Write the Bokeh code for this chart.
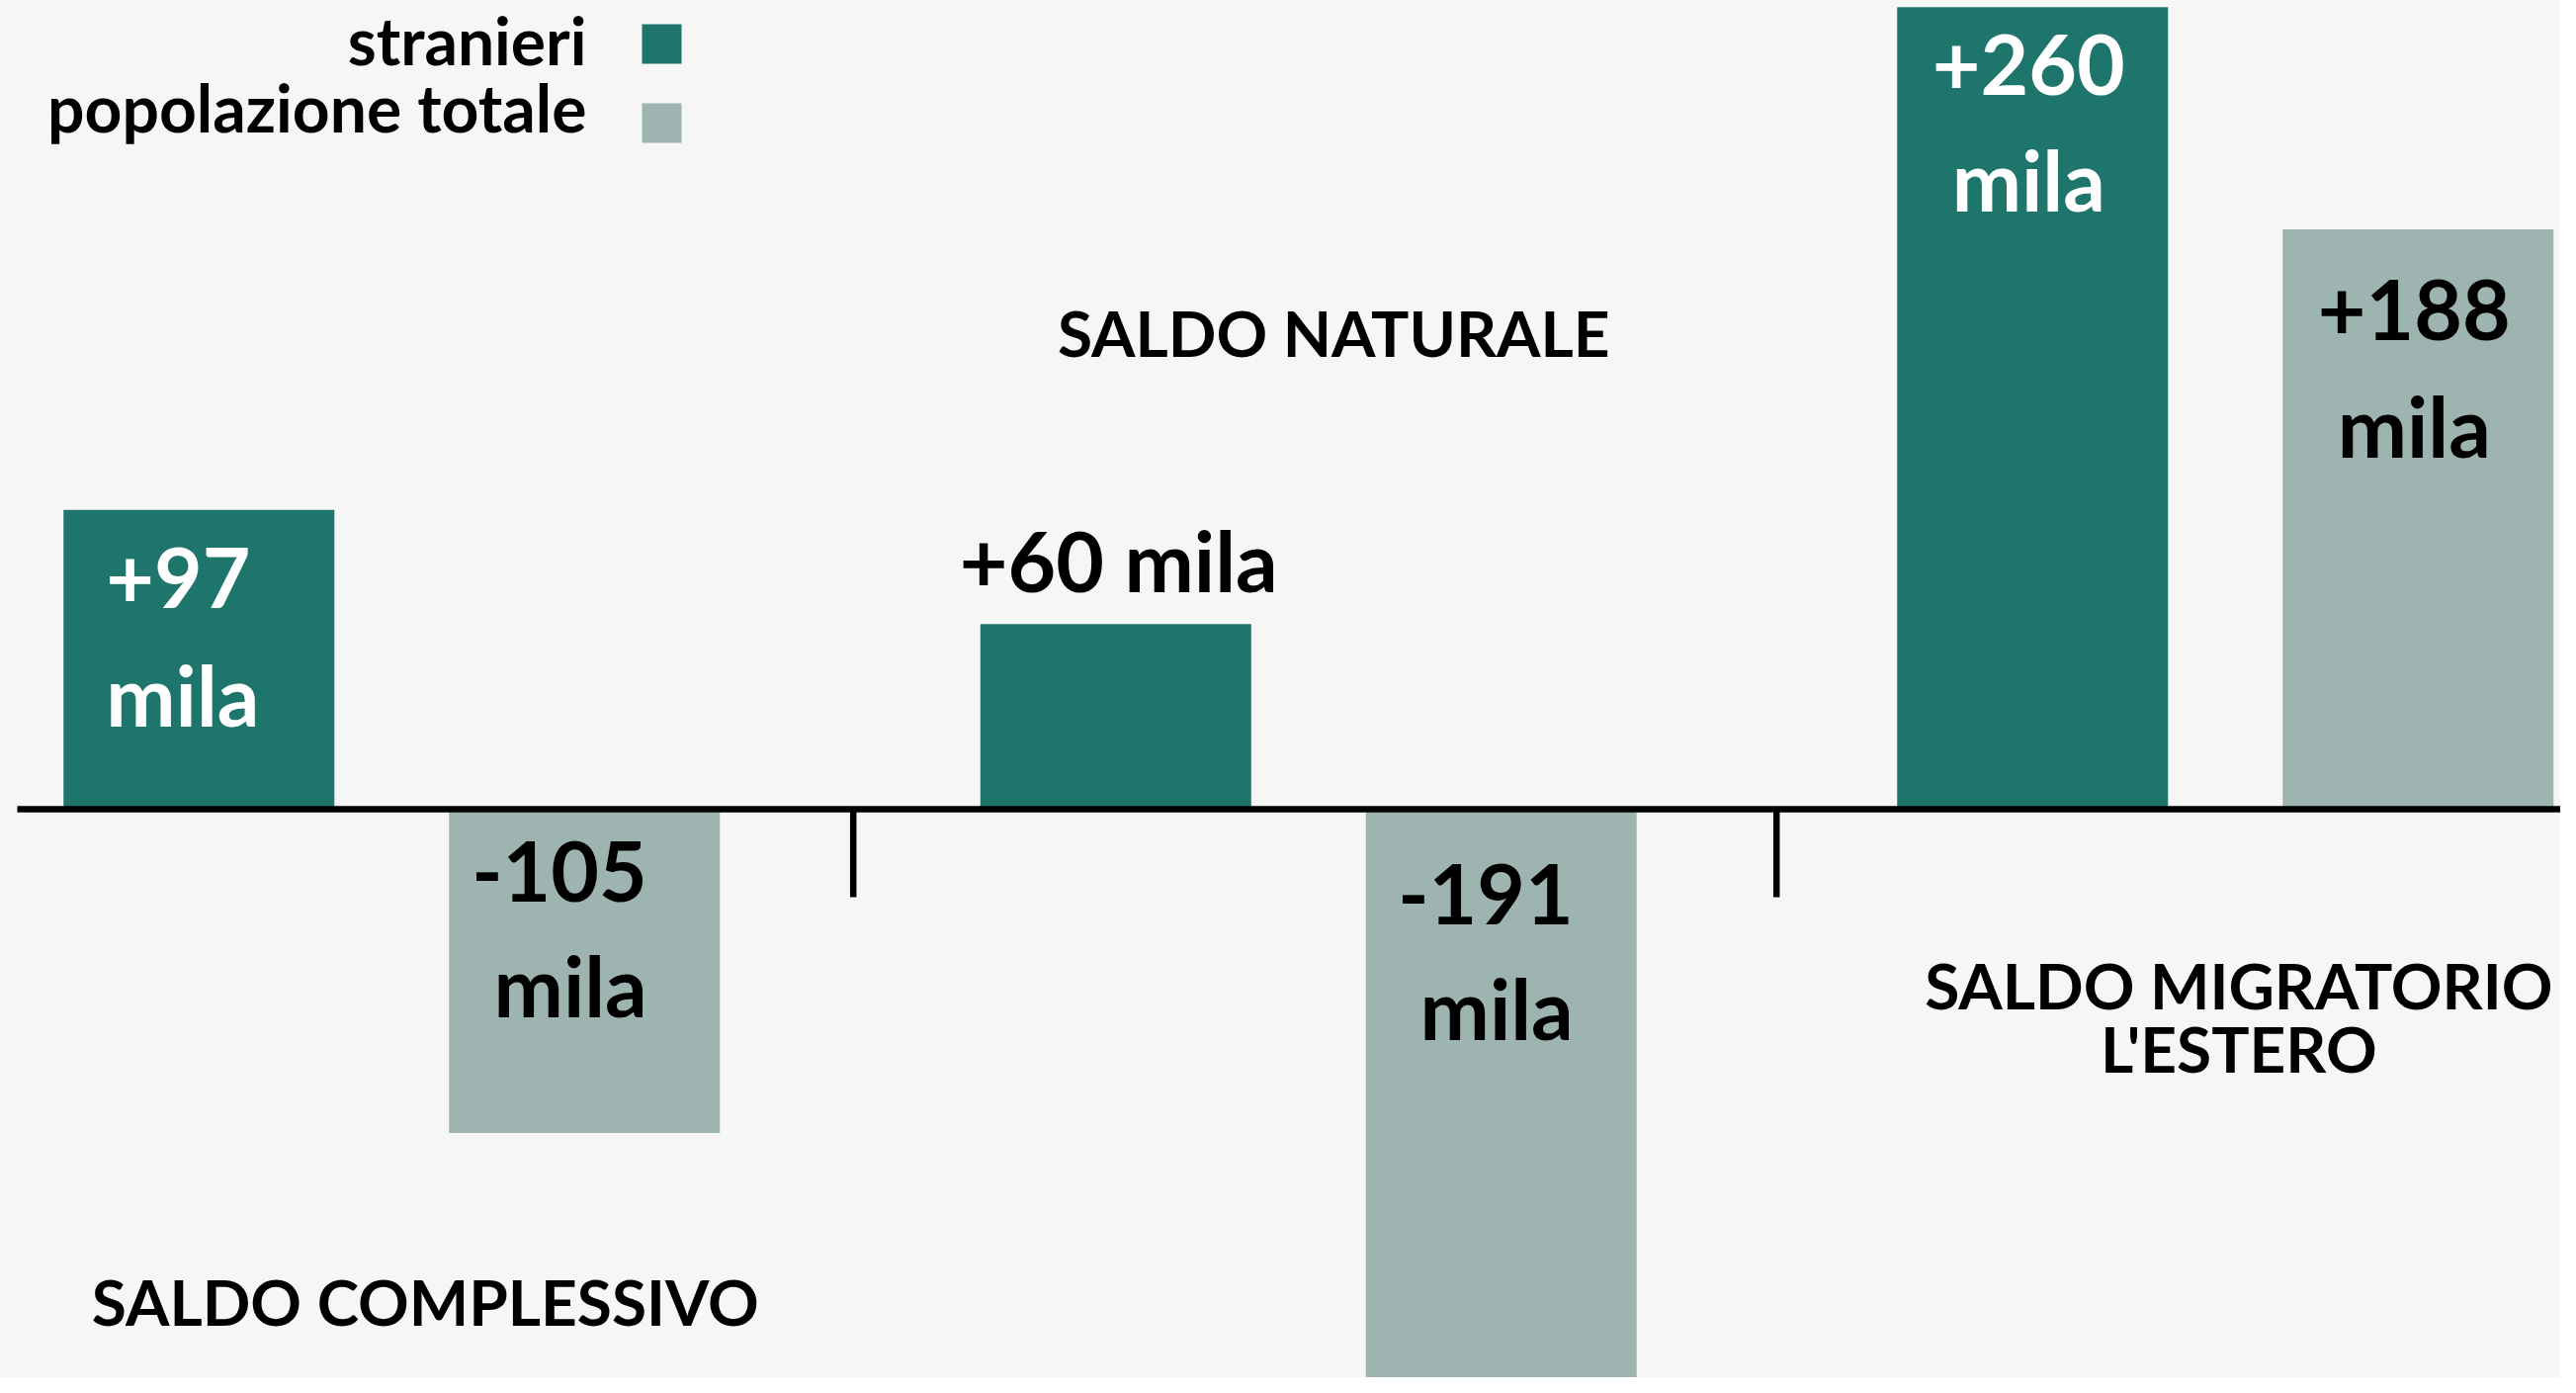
from bokeh.plotting import figure
from bokeh.models import Range1d
from bokeh.core.properties import value
from bokeh.embed import file_html
from bokeh.resources import INLINE

# ---------------- data ----------------
categories = ["SALDO COMPLESSIVO", "SALDO NATURALE", "SALDO MIGRATORIO"]
category_lines = [["SALDO COMPLESSIVO"], ["SALDO NATURALE"], ["SALDO MIGRATORIO", "L'ESTERO"]]
series_names = ["stranieri", "popolazione totale"]
stranieri = [97, 60, 260]
popolazione_totale = [-105, -191, 188]
unit_label = "mila"

# ---------------- style / layout ----------------
TEAL = "#1d756b"
GREY = "#9eb4b0"
BG = "#f6f6f6"
FONT = value("Lato")
VAL_FS = 84
CAT_FS = 64
LEG_FS = 66
BASE_FIX = 0.37          # empirical correction of the rendered baseline (em)

W, H = 2590, 1393
K = 3.12                 # px per thousand
ZERO_PX = 818            # zero line, px from figure top
GROUP_PX = 927.5         # px between category centres
X0_PX = 395.75           # px of first category centre
BAR_W = 274 / GROUP_PX
BAR_OFF = 195 / GROUP_PX
SEP_PX = [862.7, 1796.7] # separator tick positions (px)

def xd(px):
    return (px - X0_PX) / GROUP_PX

def yd(py):
    return (ZERO_PX - py) / K

p = figure(width=W, height=H, output_backend="svg", toolbar_location=None,
           x_axis_type=None, y_axis_type=None, min_border=0,
           x_range=Range1d(xd(0), xd(W)), y_range=Range1d(yd(H), yd(0)))
p.background_fill_color = BG
p.border_fill_color = BG
p.outline_line_color = None
p.xgrid.visible = False
p.ygrid.visible = False

idx = list(range(len(categories)))
xs_s = [i - BAR_OFF for i in idx]
xs_t = [i + BAR_OFF for i in idx]

p.vbar(x=xs_s, top=stranieri, bottom=0, width=BAR_W, fill_color=TEAL, line_color=None)
p.vbar(x=xs_t, top=popolazione_totale, bottom=0, width=BAR_W, fill_color=GREY, line_color=None)

# baseline and category separators
p.segment(x0=[xd(17)], y0=[0], x1=[xd(W)], y1=[0], line_color="black", line_width=6.5)
seps = [xd(s) for s in SEP_PX]
p.segment(x0=seps, y0=[0] * len(seps), x1=seps, y1=[-89 / K] * len(seps),
          line_color="black", line_width=6.5, line_cap="butt")

def put_text(x, txt, align, size, color, data_y):
    y = data_y + BASE_FIX * size / K
    p.text(x=[x], y=[y], text=[txt], text_align=align, text_baseline="alphabetic",
           text_font=FONT, text_font_style="bold", text_font_size=f"{size}px",
           text_color=color)

# ---------------- value labels ----------------
# (series, index) -> align, dx px from bar centre, baseline offsets (px down from max(value,0)), colour
label_layout = [
    ("s", 0, "left", -94, [100, 218], "white"),
    ("t", 0, "right", 63.5, [94, 209], "black"),
    ("s", 1, "center", 3, [-34], "black"),
    ("t", 1, "right", 73, [117, 232], "black"),
    ("s", 2, "center", -4, [89, 205], "white"),
    ("t", 2, "center", -4, [113, 230], "black"),
]
for ser, i, align, dx, dys, col in label_layout:
    v = stranieri[i] if ser == "s" else popolazione_totale[i]
    bx = xs_s[i] if ser == "s" else xs_t[i]
    num = f"{v:+d}"
    lines = [num, unit_label] if len(dys) == 2 else [f"{num} {unit_label}"]
    anchor = max(v, 0)
    for line, dy in zip(lines, dys):
        put_text(bx + dx / GROUP_PX, line, align, VAL_FS, col, anchor - dy / K)

# ---------------- category labels ----------------
cat_layout = [(34, [1340]), (25.5, [360]), (13.5, [1020, 1084])]
for i, (lines, (dx, bls)) in enumerate(zip(category_lines, cat_layout)):
    for line, bl in zip(lines, bls):
        put_text(i + dx / GROUP_PX, line, "center", CAT_FS, "black", yd(bl))

# ---------------- legend ----------------
leg_colors = [TEAL, GREY]
leg_text_bl = [64, 132]
leg_sq_cy = [44, 124]
for name, col, bl, cy in zip(series_names, leg_colors, leg_text_bl, leg_sq_cy):
    put_text(xd(593), name, "right", LEG_FS, "black", yd(bl))
    p.rect(x=[xd(669)], y=[yd(cy)], width=40, height=40, width_units="screen",
           height_units="screen", fill_color=col, line_color=None)

open("out.html", "w").write(file_html(p, INLINE))
